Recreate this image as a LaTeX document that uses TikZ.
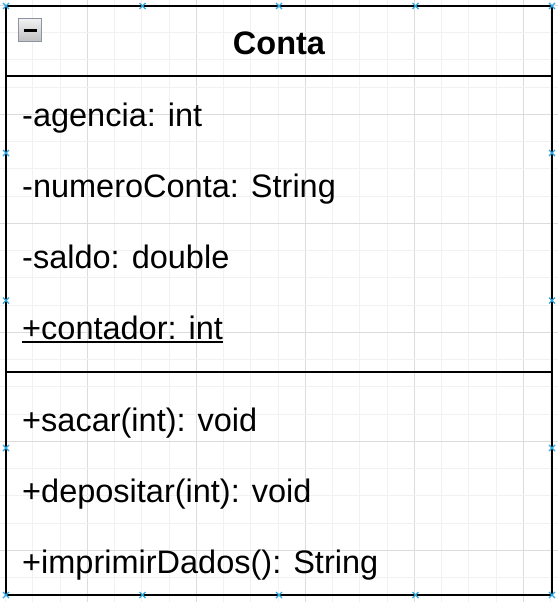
\documentclass[tikz,border=0pt]{standalone}
\usepackage{fontspec}
\setmainfont{Liberation Sans}
\usepackage{tikz}
\usetikzlibrary{positioning,calc}
\definecolor{gridMinor}{HTML}{F1F1F1}
\definecolor{gridMajor}{HTML}{DCDCDC}
\definecolor{handleBlue}{HTML}{2EA7E0}
\definecolor{iconLine}{HTML}{8C94A4}
\tikzset{
  classbox/.style={draw=black, line width=2.6pt},
  membertext/.style={anchor=base west, inner sep=0pt, font=\fontsize{32.5}{39}\selectfont},
  titletext/.style={anchor=base, inner sep=0pt, font=\fontsize{32.5}{39}\selectfont\bfseries},
  handlemark/.style={draw=handleBlue, line width=1.2pt}
}

\begin{document}
\begin{tikzpicture}[x=1pt, y=-1pt]
    \useasboundingbox (0,0) rectangle (558,602);
    % editor grid
    \foreach \k in {0,...,20} {
      \pgfmathsetmacro{\gx}{5.5+27.25*\k}
      \pgfmathtruncatemacro{\isMajor}{mod(\k,4)==3}
      \ifnum\isMajor=1
        \draw[gridMajor, line width=1pt] (\gx,0) -- (\gx,602);
      \else
        \draw[gridMinor, line width=1pt] (\gx,0) -- (\gx,602);
      \fi
    }
    \foreach \k in {0,...,22} {
      \pgfmathsetmacro{\gy}{5.3+27.25*\k}
      \pgfmathtruncatemacro{\isMajor}{mod(\k,4)==0}
      \ifnum\isMajor=1
        \draw[gridMajor, line width=1pt] (0,\gy) -- (558,\gy);
      \else
        \draw[gridMinor, line width=1pt] (0,\gy) -- (558,\gy);
      \fi
    }
    % class box
    \coordinate (topLeft) at (6,6);
    \coordinate (bottomRight) at (552,595);
    \draw[classbox] (topLeft) rectangle (bottomRight);
    \draw[classbox] (6,76) -- (552,76);
    \draw[classbox] (6,372) -- (552,372);
    % collapse icon
    \node[draw=iconLine, line width=1.5pt, top color=gray!10, bottom color=gray!50,
          minimum size=23pt, inner sep=0pt] (collapse) at (30,30) {};
    \draw[line width=2.6pt] ($(collapse.center)+(-6.5,0.5)$) -- ($(collapse.center)+(6.5,0.5)$);
    % title
    \node[titletext] (title) at (279,55) {Conta};
    % attributes
    \node[membertext] (agencia) at (22,126) {-agencia: int};
    \node[membertext] (numero) at (22,197) {-numeroConta: String};
    \node[membertext] (saldo) at (22,268) {-saldo: double};
    \node[membertext] (contador) at (22,339) {+contador: int};
    \draw[line width=2pt] (contador.base west)++(0,3) -- ($(contador.base east)+(0,3)$);
    % methods
    \node[membertext] (sacar) at (22,431) {+sacar(int): void};
    \node[membertext] (depositar) at (22,502) {+depositar(int): void};
    \node[membertext] (imprimir) at (22,573) {+imprimirDados(): String};
    % selection handles
    \foreach \hx/\hy in {6/6,142.5/6,279/6,415.5/6,552/6,
                          6/595,142.5/595,279/595,415.5/595,552/595,
                          6/153,6/300.5,6/448,552/153,552/300.5,552/448} {
      \draw[handlemark] (\hx-3,\hy-3) -- (\hx+3,\hy+3)
                        (\hx-3,\hy+3) -- (\hx+3,\hy-3);
    }
\end{tikzpicture}
\end{document}
